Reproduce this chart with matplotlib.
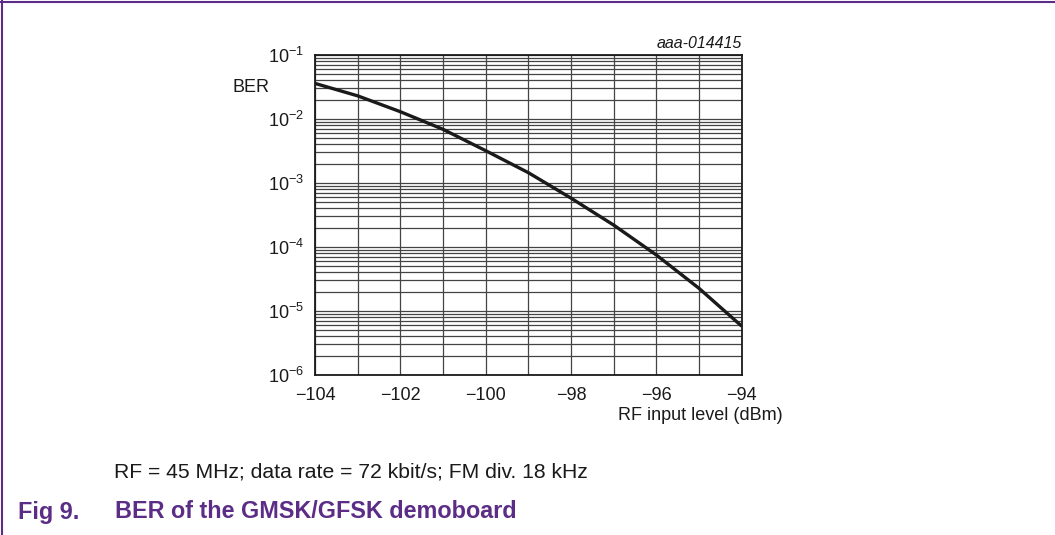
import numpy as np
import matplotlib
matplotlib.use("Agg")
import matplotlib.pyplot as plt
from matplotlib.lines import Line2D

plt.rcParams['font.family'] = ['Liberation Sans', 'DejaVu Sans']
plt.rcParams['mathtext.default'] = 'regular'

# values
rf_level = [-104, -103, -102, -101, -100, -99, -98, -97, -96, -95, -94]
ber = [3.6e-2, 2.3e-2, 1.3e-2, 6.9e-3, 3.2e-3, 1.45e-3, 5.8e-4, 2.2e-4, 7.5e-5, 2.26e-5, 5.8e-6]
x_ticks = [-104, -102, -100, -98, -96, -94]

W, H = 1055, 535
purple = '#5b2d86'

fig = plt.figure(figsize=(W / 100, H / 100), dpi=100)
ax = fig.add_axes([315 / W, 1 - 375 / H, (741.7 - 315) / W, (375 - 55) / H])

ax.plot(rf_level, ber, color='#1a1a1a', lw=2.4, solid_capstyle='butt', zorder=3)
ax.set_yscale('log')
ax.set_xlim(-104, -94)
ax.set_ylim(1e-6, 1e-1)
ax.set_xticks(x_ticks)
ax.set_xticks(np.arange(-104, -93, 1), minor=True)
ax.set_yticks([1e-6, 1e-5, 1e-4, 1e-3, 1e-2, 1e-1])

ax.grid(True, which='both', color='#444444', lw=0.9)
ax.tick_params(which='both', length=0, labelsize=13, colors='#1a1a1a')
ax.tick_params(axis='x', pad=9)
ax.tick_params(axis='y', pad=8)
for s in ax.spines.values():
    s.set_color('#1a1a1a')
    s.set_linewidth(1.3)

fig.text(232 / W, 1 - 88 / H, 'BER', fontsize=13, va='center', ha='left', color='#1a1a1a')
fig.text(741.7 / W, 1 - 43 / H, 'aaa-014415', fontsize=11.5, style='italic',
         va='center', ha='right', color='#1a1a1a')
fig.text(783 / W, 1 - 415 / H, 'RF input level (dBm)', fontsize=13,
         va='center', ha='right', color='#1a1a1a')
fig.text(114 / W, 1 - 472 / H, 'RF = 45 MHz; data rate = 72 kbit/s; FM div. 18 kHz',
         fontsize=15.2, va='center', ha='left', color='#1a1a1a')
fig.text(18 / W, 1 - 512 / H, 'Fig 9.', fontsize=16.8, fontweight='bold',
         va='center', ha='left', color=purple)
fig.text(115 / W, 1 - 512 / H, 'BER of the GMSK/GFSK demoboard', fontsize=16.8,
         fontweight='bold', va='center', ha='left', color=purple)

# page frame lines (top and left)
fig.add_artist(Line2D([0, 1], [1 - 2 / H, 1 - 2 / H], color=purple, lw=1.5))
fig.add_artist(Line2D([1.5 / W, 1.5 / W], [0, 1], color=purple, lw=1.5))

fig.savefig('out.png', dpi=100)
